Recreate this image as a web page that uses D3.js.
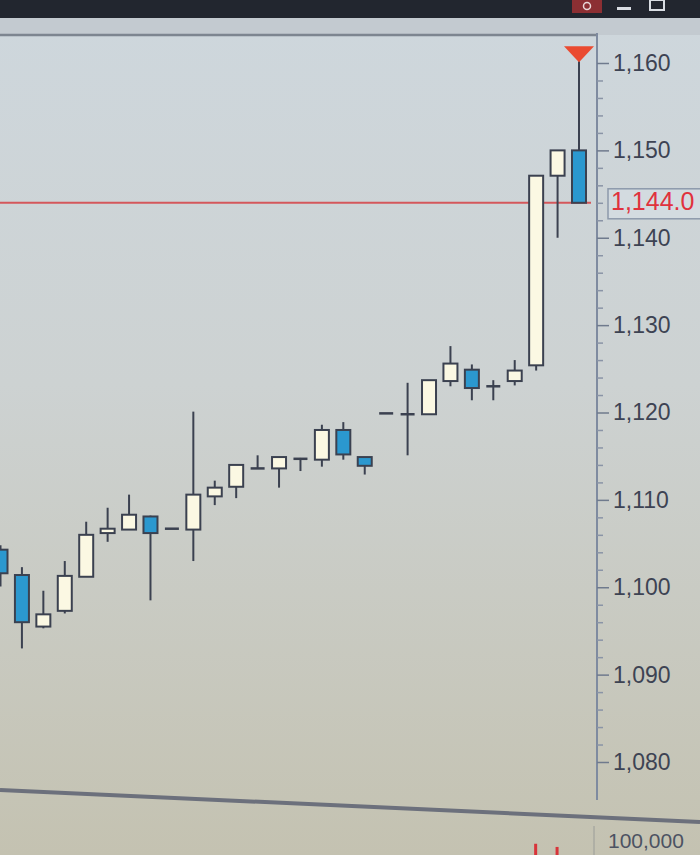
<!DOCTYPE html>
<html>
<head>
<meta charset="utf-8">
<script src="https://cdn.jsdelivr.net/npm/d3@7"></script>
<style>
  html, body { margin: 0; padding: 0; overflow: hidden; background: #c8cbc6; }
  svg { display: block; font-family: "Liberation Sans", Arial, sans-serif; }
</style>
</head>
<body>
<svg class="chart" width="700" height="855"></svg>
<script>
// candle data, oldest first
var opens  = [1104.3, 1101.4, 1095.5, 1097.3, 1101.2, 1106.2, 1106.6, 1108.1, 1106.7, 1106.6, 1110.4, 1111.5, 1113.6, 1113.6,
              1114.7, 1114.6, 1118.0, 1114.9, 1119.9, 1119.8, 1119.8, 1123.6, 1124.9, 1123.0, 1123.6, 1125.4, 1147.1, 1150.0];
var highs  = [1104.8, 1102.3, 1099.6, 1103.0, 1107.5, 1109.1, 1110.6, 1108.2, 1106.7, 1120.1, 1112.2, 1114.1, 1115.1, 1114.9,
              1114.8, 1118.6, 1118.9, 1114.9, 1119.9, 1123.4, 1123.7, 1127.6, 1125.5, 1123.7, 1126.0, 1147.1, 1150.0, 1160.2];
var lows   = [1100.1, 1093.0, 1095.3, 1097.0, 1101.2, 1105.2, 1106.6, 1098.5, 1106.7, 1103.0, 1109.4, 1110.2, 1113.6, 1111.4,
              1113.3, 1113.8, 1114.6, 1112.9, 1119.9, 1115.1, 1119.8, 1123.0, 1121.4, 1121.4, 1123.1, 1124.8, 1140.0, 1144.0];
var closes = [1101.6, 1096.0, 1096.9, 1101.3, 1106.0, 1106.7, 1108.3, 1106.2, 1106.7, 1110.6, 1111.4, 1114.0, 1113.6, 1114.9,
              1114.7, 1118.0, 1115.2, 1113.9, 1119.9, 1119.8, 1123.7, 1125.6, 1122.8, 1123.0, 1124.8, 1147.1, 1150.0, 1144.0];
// only the two volume bars that reach into view can be read
var volumes = [null, null, null, null, null, null, null, null, null, null, null, null, null, null,
               null, null, null, null, null, null, null, null, null, null, null, 102000, 100500, null];

var priceTicks = [1080, 1090, 1100, 1110, 1120, 1130, 1140, 1150, 1160];
var lastPrice = 1144.0;
var volumeTicks = [100000];

var candles = opens.map(function(o, i) {
  return { i: i, open: o, high: highs[i], low: lows[i], close: closes[i], vol: volumes[i] };
});

var svg = d3.select("svg.chart"),
    width = +svg.attr("width"),
    height = +svg.attr("height");

var axisX = 597;

var x = d3.scaleLinear().domain([0, candles.length - 1]).range([0.5, 579]);
var y = d3.scaleLinear().domain([1080, 1160]).range([762, 63]);
var yVol = d3.scaleLinear().domain([0, 100000]).range([1060, 848]);
var bodyW = 14;

// background: screen glow, bluish on top, beige below
var defs = svg.append("defs");
var grad = defs.append("linearGradient").attr("id", "bg")
    .attr("x1", 0).attr("y1", 0).attr("x2", 0).attr("y2", 1);
grad.append("stop").attr("offset", "0%").attr("stop-color", "#ced7dd");
grad.append("stop").attr("offset", "45%").attr("stop-color", "#cdd2d2");
grad.append("stop").attr("offset", "100%").attr("stop-color", "#c4c2b1");

svg.append("rect").attr("width", width).attr("height", height).attr("fill", "url(#bg)");

// window title bar
svg.append("rect").attr("width", width).attr("height", 18).attr("fill", "#22262f");
svg.append("rect").attr("x", 572).attr("y", 0).attr("width", 30).attr("height", 13).attr("fill", "#8c2f33");
svg.append("circle").attr("cx", 587).attr("cy", 6).attr("r", 3.5)
    .attr("fill", "none").attr("stroke", "#e9d7d7").attr("stroke-width", 1.5);
svg.append("rect").attr("x", 617).attr("y", 7).attr("width", 14).attr("height", 3).attr("fill", "#d9dde3");
svg.append("rect").attr("x", 650).attr("y", 0).attr("width", 14).attr("height", 10)
    .attr("fill", "none").attr("stroke", "#d9dde3").attr("stroke-width", 2);
svg.append("rect").attr("x", 0).attr("y", 18).attr("width", width).attr("height", 17).attr("fill", "#c3cad0");

// price pane frame
svg.append("line").attr("x1", 0).attr("x2", axisX).attr("y1", 35).attr("y2", 35)
    .attr("stroke", "#7d8590").attr("stroke-width", 2.5);
svg.append("line").attr("x1", axisX).attr("x2", axisX).attr("y1", 33).attr("y2", 800)
    .attr("stroke", "#7f8ba0").attr("stroke-width", 2);

// minor ticks every 2 points
var minor = d3.range(1080, 1161, 2).filter(function(v) { return v % 10 !== 0; });
svg.append("g")
    .attr("transform", "translate(" + axisX + ",0)")
    .call(d3.axisRight(y).tickValues(minor).tickSize(6).tickFormat(""))
    .call(function(g) { g.select(".domain").remove(); })
    .selectAll("line").attr("stroke", "#8a94a6").attr("stroke-width", 1.5);

var yAxis = svg.append("g")
    .attr("transform", "translate(" + axisX + ",0)")
    .call(d3.axisRight(y).tickValues(priceTicks).tickSize(12).tickPadding(4).tickFormat(d3.format(",")));
yAxis.select(".domain").remove();
yAxis.selectAll("line").attr("stroke", "#6f7a8d").attr("stroke-width", 1.5);
yAxis.selectAll("text")
    .attr("font-size", 23)
    .attr("font-family", "'Liberation Sans', Arial, sans-serif")
    .attr("fill", "#3d4353");

// last price line and its label
svg.append("line")
    .attr("x1", 0).attr("x2", axisX - 6)
    .attr("y1", y(lastPrice)).attr("y2", y(lastPrice))
    .attr("stroke", "#d4575b").attr("stroke-width", 2);
svg.append("rect")
    .attr("x", 608).attr("y", y(lastPrice) - 14).attr("width", 96).attr("height", 30)
    .attr("fill", "#d3dbe0").attr("stroke", "#8d99ab").attr("stroke-width", 1.5);
svg.append("text")
    .attr("x", 611).attr("y", y(lastPrice) + 1)
    .attr("dominant-baseline", "middle")
    .attr("font-size", 25)
    .attr("fill", "#e0323d")
    .text(d3.format(",.1f")(lastPrice));

// candles
var candle = svg.append("g").attr("class", "candles")
    .selectAll("g")
    .data(candles)
    .enter().append("g");

candle.append("line")
    .attr("x1", function(d) { return x(d.i); })
    .attr("x2", function(d) { return x(d.i); })
    .attr("y1", function(d) { return y(d.high); })
    .attr("y2", function(d) { return y(d.low); })
    .attr("stroke", "#3b4150")
    .attr("stroke-width", 2);

// flat candles are drawn as a dash
candle.filter(function(d) { return Math.abs(d.open - d.close) < 0.3; })
  .append("line")
    .attr("x1", function(d) { return x(d.i) - bodyW / 2; })
    .attr("x2", function(d) { return x(d.i) + bodyW / 2; })
    .attr("y1", function(d) { return y(d.close); })
    .attr("y2", function(d) { return y(d.close); })
    .attr("stroke", "#3b4150")
    .attr("stroke-width", 2.5);

candle.filter(function(d) { return Math.abs(d.open - d.close) >= 0.3; })
  .append("rect")
    .attr("x", function(d) { return x(d.i) - bodyW / 2; })
    .attr("y", function(d) { return y(Math.max(d.open, d.close)); })
    .attr("width", bodyW)
    .attr("height", function(d) { return Math.abs(y(d.open) - y(d.close)); })
    .attr("fill", function(d) { return d.close > d.open ? "#fbf8e3" : "#2b98cf"; })
    .attr("stroke", "#3b4150")
    .attr("stroke-width", 2);

// high marker on the last bar
var last = candles[candles.length - 1];
svg.append("path")
    .attr("d", d3.line()([[x(last.i) - 15, y(last.high) - 15], [x(last.i) + 15, y(last.high) - 15], [x(last.i), y(last.high) + 1]]) + "Z")
    .attr("fill", "#ea4a30");

// pane separator (screen is tilted in the photo)
svg.append("line").attr("x1", 0).attr("y1", 790).attr("x2", width).attr("y2", 822)
    .attr("stroke", "#6c707c").attr("stroke-width", 4);

// volume pane
svg.append("line").attr("x1", 594).attr("x2", 594).attr("y1", 826).attr("y2", height)
    .attr("stroke", "#9a9c98").attr("stroke-width", 1);
svg.append("g").selectAll("rect")
    .data(candles.filter(function(d) { return d.vol != null; }))
    .enter().append("rect")
      .attr("x", function(d) { return x(d.i) - 2; })
      .attr("y", function(d) { return yVol(d.vol); })
      .attr("width", 3)
      .attr("height", function(d) { return yVol(0) - yVol(d.vol); })
      .attr("fill", "#d8343a");

svg.append("g").selectAll("text")
    .data(volumeTicks)
    .enter().append("text")
      .attr("x", 608).attr("y", function(d) { return yVol(d) - 6; })
      .attr("dominant-baseline", "middle")
      .attr("font-size", 21)
      .attr("fill", "#4c5262")
      .text(d3.format(","));
</script>
</body>
</html>
